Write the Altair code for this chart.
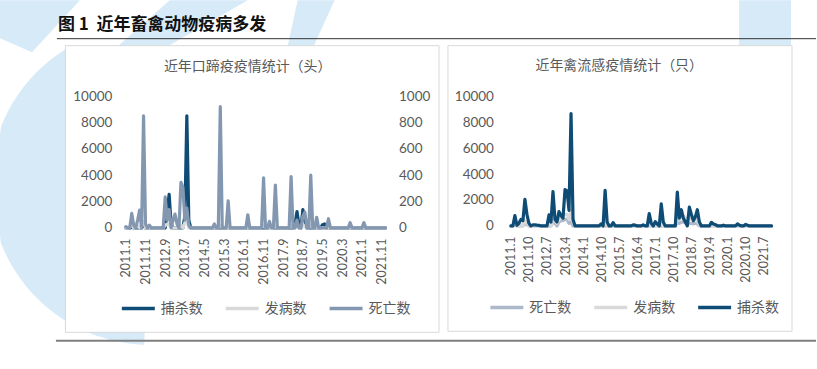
import math
import altair as alt
import pandas as pd

# ---------------- data ----------------
# Left panel: 口蹄疫, monthly 2011.1 - 2022.1
left_months = [f"{2011 + i // 12}.{i % 12 + 1}" for i in range(133)]
left_ticks = ["2011.1", "2011.11", "2012.9", "2013.7", "2014.5", "2015.3", "2016.1",
              "2016.11", "2017.9", "2018.7", "2019.5", "2020.3", "2021.1", "2021.11"]

left_kill = (  # 捕杀数 (left axis)
    [0, 0, 0, 60, 0, 0, 0, 0, 0, 300, 0, 0] +
    [0, 0, 0, 0, 0, 0, 0, 0, 0, 1200, 2550, 300] +
    [0, 0, 0, 0, 0, 0, 900, 8500, 600, 0, 0, 0] +
    [0, 0, 0, 0, 0, 0, 0, 0, 0, 0, 0, 0] +
    [0, 0, 0, 0, 0, 0, 0, 0, 0, 0, 0, 0] +
    [0, 0, 0, 0, 0, 0, 0, 0, 0, 0, 0, 0] +
    [0, 0, 150, 0, 0, 0, 0, 0, 0, 0, 0, 0] +
    [0, 0, 300, 1240, 200, 0, 1400, 600, 0, 0, 0, 0] +
    [0, 0, 0, 0, 250, 300, 0, 0, 0, 0, 0, 0] +
    [0, 0, 0, 0, 0, 0, 0, 0, 0, 0, 0, 0] +
    [0, 0, 0, 0, 0, 0, 0, 0, 0, 0, 0, 0] +
    [0]
)
left_cases = (  # 发病数 (left axis)
    [0, 0, 100, 200, 0, 0, 150, 0, 300, 500, 0, 0] +
    [0, 0, 0, 0, 0, 0, 0, 0, 200, 300, 300, 0] +
    [0, 0, 0, 0, 200, 0, 400, 600, 0, 0, 0, 0] +
    [0, 0, 0, 0, 0, 0, 0, 0, 0, 0, 0, 0] +
    [200, 0, 0, 0, 0, 0, 0, 0, 0, 0, 0, 0] +
    [0, 0, 0, 0, 0, 0, 0, 0, 0, 0, 150, 0] +
    [0, 0, 0, 0, 100, 0, 0, 0, 0, 0, 0, 0] +
    [150, 0, 0, 200, 0, 0, 250, 100, 0, 0, 150, 0] +
    [0, 0, 0, 0, 0, 0, 0, 0, 0, 0, 0, 0] +
    [0, 0, 0, 0, 0, 0, 0, 0, 0, 0, 0, 0] +
    [0, 0, 0, 0, 0, 0, 0, 0, 0, 0, 0, 0] +
    [0]
)
left_deaths = (  # 死亡数 (right axis, 0-1000)
    [10, 0, 0, 110, 20, 0, 60, 135, 0, 850, 30, 0] +
    [20, 0, 0, 0, 0, 0, 0, 0, 235, 60, 140, 0] +
    [60, 105, 30, 0, 345, 310, 60, 150, 20, 0, 0, 0] +
    [0, 0, 0, 0, 0, 0, 0, 0, 0, 30, 0, 0] +
    [920, 0, 0, 0, 205, 0, 0, 0, 0, 0, 0, 0] +
    [0, 0, 100, 0, 0, 0, 0, 0, 0, 0, 380, 0] +
    [0, 50, 0, 0, 325, 0, 0, 0, 0, 0, 0, 0] +
    [390, 0, 0, 60, 0, 0, 90, 120, 0, 0, 400, 0] +
    [0, 80, 0, 0, 0, 0, 0, 70, 0, 0, 0, 0] +
    [0, 0, 0, 0, 0, 0, 40, 0, 0, 0, 0, 0] +
    [0, 40, 0, 0, 0, 0, 0, 0, 0, 0, 0, 0] +
    [0]
)

# Right panel: 禽流感, monthly 2011.1 - 2021.11
right_months = [f"{2011 + i // 12}.{i % 12 + 1}" for i in range(131)]
right_ticks = ["2011.1", "2011.10", "2012.7", "2013.4", "2014.1", "2014.10", "2015.7",
               "2016.4", "2017.1", "2017.10", "2018.7", "2019.4", "2020.1", "2020.10", "2021.7"]

right_kill = (  # 捕杀数
    [0, 0, 800, 50, 200, 500, 400, 2050, 900, 200, 0, 80] +
    [80, 60, 50, 0, 0, 0, 0, 850, 300, 2650, 500, 300] +
    [1100, 800, 600, 2800, 2700, 1200, 8650, 500, 0, 0, 0, 0] +
    [0, 0, 0, 0, 0, 0, 0, 0, 0, 150, 0, 2750] +
    [300, 0, 0, 250, 0, 0, 0, 0, 0, 0, 0, 0] +
    [0, 80, 60, 0, 0, 0, 80, 0, 0, 950, 200, 0] +
    [330, 150, 0, 1700, 300, 0, 0, 0, 0, 0, 0, 2600] +
    [600, 1250, 600, 300, 0, 1450, 900, 400, 700, 1250, 300, 0] +
    [0, 0, 0, 0, 280, 150, 100, 0, 0, 0, 60, 0] +
    [0, 0, 0, 0, 0, 150, 60, 0, 0, 120, 60, 0] +
    [0, 0, 0, 0, 0, 0, 0, 0, 0, 0, 0]
)
right_cases = (  # 发病数
    [0, 0, 200, 0, 0, 100, 0, 400, 200, 0, 0, 0] +
    [0, 0, 0, 0, 0, 0, 0, 300, 0, 500, 400, 200] +
    [500, 600, 700, 900, 900, 500, 1200, 300, 0, 0, 0, 0] +
    [0, 0, 0, 0, 0, 0, 0, 0, 0, 0, 0, 400] +
    [0, 0, 0, 0, 0, 0, 0, 0, 0, 0, 0, 0] +
    [0, 0, 0, 0, 0, 0, 0, 0, 0, 200, 0, 0] +
    [0, 0, 0, 300, 0, 0, 0, 0, 0, 0, 0, 600] +
    [500, 700, 800, 600, 400, 500, 600, 500, 600, 400, 100, 0] +
    [0, 0, 0, 0, 0, 0, 0, 0, 0, 0, 0, 0] +
    [0, 0, 0, 0, 0, 0, 0, 0, 0, 0, 0, 0] +
    [0, 0, 0, 0, 0, 0, 0, 0, 0, 0, 0]
)
right_deaths = (  # 死亡数
    [0, 0, 100, 0, 0, 0, 0, 200, 100, 0, 0, 0] +
    [0, 0, 0, 0, 0, 0, 0, 0, 0, 300, 200, 0] +
    [300, 400, 400, 500, 500, 200, 300, 0, 0, 0, 0, 0] +
    [0, 0, 0, 0, 0, 0, 0, 0, 0, 0, 0, 0] +
    [0, 0, 0, 0, 0, 0, 0, 0, 0, 0, 0, 0] +
    [0, 0, 0, 0, 0, 0, 0, 0, 0, 0, 0, 0] +
    [0, 0, 0, 0, 0, 0, 0, 0, 0, 0, 0, 300] +
    [200, 300, 300, 250, 150, 200, 200, 150, 200, 150, 0, 0] +
    [0, 0, 0, 0, 0, 0, 0, 0, 0, 0, 0, 0] +
    [0, 0, 0, 0, 0, 0, 0, 0, 0, 0, 0, 0] +
    [0, 0, 0, 0, 0, 0, 0, 0, 0, 0, 0]
)

# ---------------- style ----------------
DARK = "#0f4c75"
LIGHT = "#d9d9d9"
SLATE_L = "#8497b0"
SLATE_R = "#adb9ca"
GREY_TXT = "#595959"
CJK = "Noto Sans CJK SC"
NUM = "Lato"
WM = "#d6eaf7"

one = pd.DataFrame({"k": [0]})


def long_df(months, series):
    rows = []
    for name, vals in series.items():
        for m, v in zip(months, vals):
            rows.append({"month": m, "series": name, "value": v})
    return pd.DataFrame(rows)


def x_axis(ticks):
    return alt.Axis(values=ticks, labelAngle=-90, domain=False, ticks=False, grid=False,
                    labelPadding=10, labelFont=NUM, labelFontSize=12.5, labelColor=GREY_TXT,
                    labelOverlap=False, title=None, zindex=2)


def y_axis(orient, values, pad):
    return alt.Axis(orient=orient, values=values, format="d", domain=False, ticks=False,
                    grid=False, labelPadding=pad, labelFont=NUM, labelFontSize=13.5,
                    labelColor=GREY_TXT, title=None, zindex=2)


def make_legend(lx, ly):
    return alt.Legend(orient="none", legendX=lx, legendY=ly, direction="horizontal",
                      title=None, symbolType="stroke", symbolSize=1089,
                      symbolStrokeWidth=3.5, labelFont=CJK, labelFontSize=14,
                      labelColor=GREY_TXT, labelOffset=4, columnPadding=16)


def line(df, name, months, ticks, ydom, yaxis, cscale, legend, width, height):
    return alt.Chart(df).transform_filter(alt.datum.series == name).mark_line(
        strokeWidth=3.2, strokeJoin="round", strokeCap="round"
    ).encode(
        x=alt.X("month:N", sort=months, scale=alt.Scale(padding=0), axis=x_axis(ticks)),
        y=alt.Y("value:Q", scale=alt.Scale(domain=ydom, nice=False), axis=yaxis),
        color=alt.Color("series:N", scale=cscale, legend=legend),
    ).properties(width=width, height=height)


def rect(x, x2, y, y2, **kw):
    return alt.Chart(one).mark_rect(**kw).encode(
        x=alt.value(x), x2=alt.value(x2), y=alt.value(y), y2=alt.value(y2))


def rule(x, x2, y, y2, **kw):
    return alt.Chart(one).mark_rule(**kw).encode(
        x=alt.value(x), x2=alt.value(x2), y=alt.value(y), y2=alt.value(y2))


def text(s, x, y, **kw):
    return alt.Chart(one).mark_text(text=s, **kw).encode(x=alt.value(x), y=alt.value(y))


# watermark polygons, in page pixels, drawn from the page's top-left corner
OX, OY = -126, -96  # page corner relative to the left plot origin


def poly(points):
    return "M" + " L".join(f"{x:.1f},{y:.1f}" for x, y in points) + " Z"


def ring(cx, cy, r1, r2, a1, a2, n=48):
    outer = [(cx + r2 * math.cos(math.radians(a1 + (a2 - a1) * i / n)),
              cy + r2 * math.sin(math.radians(a1 + (a2 - a1) * i / n))) for i in range(n + 1)]
    inner = [(cx + r1 * math.cos(math.radians(a2 - (a2 - a1) * i / n)),
              cy + r1 * math.sin(math.radians(a2 - (a2 - a1) * i / n))) for i in range(n + 1)]
    pts = [(min(max(x, 0), 817), min(max(y, 0), 369)) for x, y in outer + inner]
    return poly(pts)


wm_shapes = [
    poly([(0, 0), (80, 0), (32, 52), (0, 38)]),
    poly([(170, 0), (248, 0), (168, 46), (118, 46)]),
    poly([(298, 0), (335, 0), (314, 46), (288, 46)]),
    poly([(740, 0), (792, 0), (792, 46), (740, 46)]),
    ring(150, 185, 85, 160, 92, 238),
]


def wm(path):
    return alt.Chart(one).mark_point(shape=path, size=4, filled=True, color=WM,
                                     opacity=1, strokeWidth=0).encode(
        x=alt.value(OX), y=alt.value(OY))


# ---------------- left panel ----------------
LW, LH = 260, 132
ldf = long_df(left_months, {"捕杀数": left_kill, "发病数": left_cases, "死亡数": left_deaths})
lcs = alt.Scale(domain=["捕杀数", "发病数", "死亡数"], range=[DARK, LIGHT, SLATE_L])
lleg = make_legend(-6, 194)
ly_left = y_axis("left", [0, 2000, 4000, 6000, 8000, 10000], 14)
ly_right = y_axis("right", [0, 200, 400, 600, 800, 1000], 13)

left = alt.layer(
    rect(-126, 691, -96, 273, fill="white"),
    *[wm(p) for p in wm_shapes],
    rect(-60.5, 313.5, -50.5, 236.5, fill="white", stroke="#d9d9d9", strokeWidth=1),
    text("图\u00a01\u00a0\u00a0近年畜禽动物疫病多发", -68, -71, font=CJK, fontSize=17,
         fontWeight="bold", color="#111111", align="left", baseline="middle"),
    rule(-69, 691, -57.5, -57.5, color="#333333", strokeWidth=1),
    rule(-70, 691, 245, 245, color="#7f7f7f", strokeWidth=2),
    text("近年口蹄疫疫情统计（头）", 122, -29, font=CJK, fontSize=14, color=GREY_TXT,
         align="center", baseline="middle"),
    line(ldf, "捕杀数", left_months, left_ticks, [0, 10000], ly_left, lcs, lleg, LW, LH),
    line(ldf, "发病数", left_months, left_ticks, [0, 10000], None, lcs, lleg, LW, LH),
    line(ldf, "死亡数", left_months, left_ticks, [0, 1000], ly_right, lcs, lleg, LW, LH),
).resolve_scale(y="independent")

# ---------------- right panel ----------------
RW, RH = 261, 130
rdf = long_df(right_months, {"死亡数": right_deaths, "发病数": right_cases, "捕杀数": right_kill})
rcs = alt.Scale(domain=["死亡数", "发病数", "捕杀数"], range=[SLATE_R, LIGHT, DARK])
rleg = make_legend(-22.5, 193)
ry = y_axis("left", [0, 2000, 4000, 6000, 8000, 10000], 17.5)

right = alt.layer(
    rect(-63, 281.5, -50.5, 235.5, fill="white", stroke="#d9d9d9", strokeWidth=1),
    text("近年禽流感疫情统计（只）", 108.5, -30, font=CJK, fontSize=14, color=GREY_TXT,
         align="center", baseline="middle"),
    line(rdf, "死亡数", right_months, right_ticks, [0, 10000], ry, rcs, rleg, RW, RH),
    line(rdf, "发病数", right_months, right_ticks, [0, 10000], ry, rcs, rleg, RW, RH),
    line(rdf, "捕杀数", right_months, right_ticks, [0, 10000], ry, rcs, rleg, RW, RH),
)

chart = alt.hconcat(left, right, spacing=125.5, bounds="flush").resolve_scale(
    color="independent", x="independent", y="independent"
).properties(padding=0).configure_view(stroke=None)

chart.save("out.html", embed_options={"renderer": "svg", "actions": False})
